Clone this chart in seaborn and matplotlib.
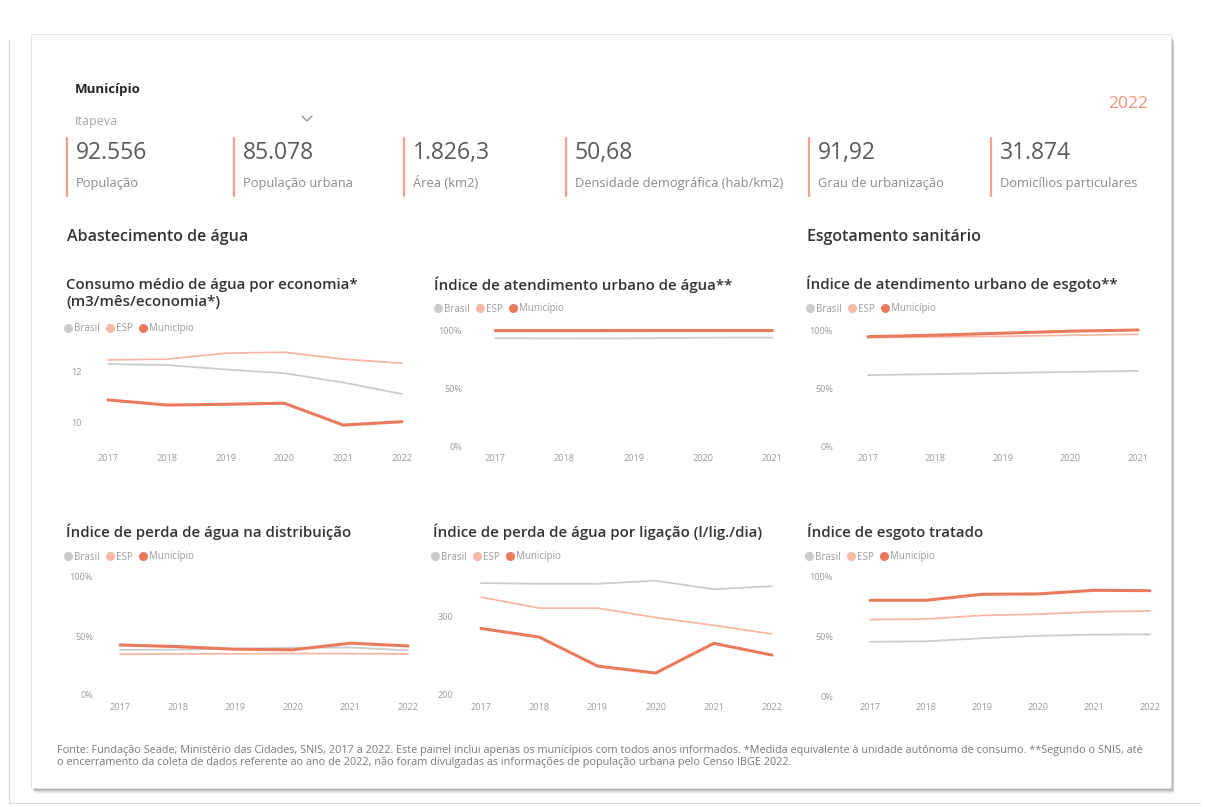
import matplotlib
matplotlib.use("Agg")
import matplotlib.pyplot as plt
import seaborn as sns
import pandas as pd
from matplotlib.patches import Rectangle
from matplotlib.lines import Line2D

# ---------------- data ----------------
years6 = [2017, 2018, 2019, 2020, 2021, 2022]
years5 = [2017, 2018, 2019, 2020, 2021]

kpi_values = ["92.556", "85.078", "1.826,3", "50,68", "91,92", "31.874"]
kpi_labels = ["População", "População urbana", "Área (km2)",
              "Densidade demográfica (hab/km2)", "Grau de urbanização",
              "Domicílios particulares"]

consumo_brasil = [12.30, 12.26, 12.09, 11.94, 11.58, 11.13]
consumo_esp = [12.46, 12.49, 12.72, 12.76, 12.49, 12.33]
consumo_mun = [10.90, 10.70, 10.73, 10.77, 9.92, 10.05]

agua_brasil = [93.0, 92.8, 92.9, 93.4, 93.5]
agua_esp = [98.9, 98.8, 99.0, 99.2, 99.3]
agua_mun = [100.0, 100.0, 100.0, 100.0, 100.0]

esgoto_brasil = [61.5, 62.3, 63.2, 64.2, 65.0]
esgoto_esp = [93.5, 94.0, 94.6, 95.5, 96.3]
esgoto_mun = [94.3, 95.6, 97.3, 99.0, 100.0]

perda_dist_brasil = [38.3, 38.5, 39.2, 40.1, 40.3, 37.8]
perda_dist_esp = [34.5, 34.8, 34.9, 35.2, 35.0, 34.8]
perda_dist_mun = [42.4, 41.0, 38.8, 38.3, 43.9, 41.6]

perda_lig_brasil = [343, 342, 342, 346, 335, 339]
perda_lig_esp = [325, 311, 311, 299, 289, 278]
perda_lig_mun = [285, 274, 237, 228, 266, 251]

tratado_brasil = [46.0, 46.4, 49.0, 51.0, 52.0, 52.2]
tratado_esp = [64.5, 65.0, 68.0, 69.0, 71.0, 71.7]
tratado_mun = [80.6, 80.6, 85.6, 85.9, 88.9, 88.6]

series_names = ["Brasil", "ESP", "Município"]

footer1 = ("Fonte: Fundação Seade; Ministério das Cidades, SNIS, 2017 a 2022. Este painel inclui apenas os municípios "
           "com todos anos informados. *Medida equivalente à unidade autônoma de consumo. **Segundo o SNIS, até")
footer2 = ("o encerramento da coleta de dados referente ao ano de 2022, não foram divulgadas as informações de "
           "população urbana pelo Censo IBGE 2022.")

# ---------------- style ----------------
sns.set_style("white")
plt.rcParams['font.family'] = ['Open Sans', 'DejaVu Sans']

W, H = 1206, 807
C_BR = "#cbcbcb"
C_ESP = "#f6b9a6"
C_MUN = "#e97a5c"
COLORS = {"Brasil": C_BR, "ESP": C_ESP, "Município": C_MUN}
LWS = {"Brasil": 1.3, "ESP": 1.3, "Município": 2.2}

fig = plt.figure(figsize=(W / 100, H / 100), dpi=100)
fig.patch.set_facecolor("white")


def fx(x):
    return x / W


def fy(y):
    return 1 - y / H


def ftext(x, y, s, **kw):
    kw.setdefault("va", "center")
    fig.text(fx(x), fy(y), s, **kw)


# outer faint frame
fig.add_artist(Line2D([fx(9), fx(9)], [fy(40), fy(803)], color="#d8d8d8", lw=0.8, zorder=-5))
fig.add_artist(Line2D([fx(9), fx(1200)], [fy(803), fy(803)], color="#d8d8d8", lw=0.8, zorder=-5))

# card shadow
for i, a in enumerate([0.05, 0.07, 0.10, 0.14, 0.20]):
    off = 5 - i
    fig.add_artist(Rectangle((fx(32 + off * 0.6), fy(789 + off)), 1140 / W, 752 / H,
                             transform=fig.transFigure, facecolor="#555555", alpha=a,
                             edgecolor="none", zorder=-4))
fig.add_artist(Rectangle((fx(31), fy(788)), 1140 / W, 754 / H, transform=fig.transFigure,
                         facecolor="white", edgecolor="#e2e2e2", lw=0.6, zorder=-3))

# header
ftext(75, 90, "Município", fontsize=9.5, fontweight="bold", color="#252525")
ftext(75, 121, "Itapeva", fontsize=9, color="#a8a8a8")
fig.add_artist(Line2D([fx(302), fx(307), fx(312)], [fy(116), fy(121), fy(116)],
                      color="#8a8a8a", lw=0.9))
ftext(1148, 104, "2022", fontsize=12.5, color="#f0937a", ha="right")

# KPIs
kpi_x = [67, 234, 404, 566, 809, 991]
for x, v, lab in zip(kpi_x, kpi_values, kpi_labels):
    fig.add_artist(Line2D([fx(x), fx(x)], [fy(138), fy(196)], color="#f2a18a", lw=1.6))
    ftext(x + 9, 153, v, fontsize=16.5, color="#5a5a5a")
    ftext(x + 9, 183, lab, fontsize=9.3, color="#8a8a8a")

# section titles
ftext(67, 237, "Abastecimento de água", fontsize=11.5, fontweight="semibold", color="#333333")
ftext(807, 237, "Esgotamento sanitário", fontsize=11.5, fontweight="semibold", color="#333333")


def chart(box, xref, yref, years, vals, yticks, yticklabels, ylab_right, xlab_y,
          title_lines, title_xy, legend_xy):
    x0, y0, x1, y1 = box
    ax = fig.add_axes([fx(x0), fy(y1), (x1 - x0) / W, (y1 - y0) / H])
    ax.patch.set_alpha(0)
    (ya, pa), (yb, pb) = xref
    sx = (pb - pa) / (yb - ya)
    ax.set_xlim(ya - (pa - x0) / sx, yb + (x1 - pb) / sx)
    (va, qa), (vb, qb) = yref
    sy = (qb - qa) / (va - vb)
    ax.set_ylim(vb - (y1 - qb) / sy, va + (qa - y0) / sy)
    df = pd.DataFrame({"Ano": years * 3,
                       "Valor": vals[0] + vals[1] + vals[2],
                       "Série": [n for n in series_names for _ in years]})
    for n in series_names:
        sns.lineplot(data=df[df["Série"] == n], x="Ano", y="Valor", ax=ax,
                     color=COLORS[n], lw=LWS[n], legend=False)
    ax.set_xticks(years)
    ax.set_xticklabels([str(y) for y in years])
    ax.set_yticks(yticks)
    ax.set_yticklabels(yticklabels)
    ax.set_xlabel("")
    ax.set_ylabel("")
    ax.tick_params(axis="both", length=0, labelsize=6.6, labelcolor="#9a9a9a")
    ax.tick_params(axis="x", pad=(xlab_y - y1 - 4) * 0.72)
    ax.tick_params(axis="y", pad=(x0 - ylab_right) * 0.72)
    sns.despine(ax=ax, left=True, bottom=True)
    tx, ty = title_xy
    for i, t in enumerate(title_lines):
        ftext(tx, ty + i * 17, t, fontsize=10.8, fontweight="semibold", color="#333333")
    handles = [Line2D([], [], ls="", marker="o", markersize=5.5, color=COLORS[n]) for n in series_names]
    lx, ly = legend_xy
    ax.legend(handles, series_names, loc="center left", bbox_to_anchor=(fx(lx), fy(ly)),
              bbox_transform=fig.transFigure, ncol=3, frameon=False, fontsize=7.0,
              handletextpad=0.15, columnspacing=0.6, borderpad=0, borderaxespad=0,
              handlelength=0.9, labelcolor="#9a9a9a")
    return ax


pct = ["0%", "50%", "100%"]

chart((95, 340, 415, 447), ((2017, 108), (2022, 402)), ((12, 371.7), (10, 423)), years6,
      [consumo_brasil, consumo_esp, consumo_mun], [10, 12], ["10", "12"], 82, 458,
      ["Consumo médio de água por economia*", "(m3/mês/economia*)"], (66, 285), (64, 329))

chart((480, 320, 790, 449), ((2017, 495), (2021, 772)), ((100, 330), (0, 447)), years5,
      [agua_brasil, agua_esp, agua_mun], [0, 50, 100], pct, 462, 458,
      ["Índice de atendimento urbano de água**"], (434, 285), (434, 309))

chart((850, 320, 1160, 449), ((2017, 868), (2021, 1138)), ((100, 330), (0, 447)), years5,
      [esgoto_brasil, esgoto_esp, esgoto_mun], [0, 50, 100], pct, 833, 458,
      ["Índice de atendimento urbano de esgoto**"], (806, 284), (806, 309))

chart((105, 570, 420, 697), ((2017, 120), (2022, 408)), ((100, 577), (0, 695)), years6,
      [perda_dist_brasil, perda_dist_esp, perda_dist_mun], [0, 50, 100], pct, 93, 707,
      ["Índice de perda de água na distribuição"], (66, 532), (64, 557))

chart((465, 570, 790, 697), ((2017, 481), (2022, 772)), ((300, 616.7), (200, 695)), years6,
      [perda_lig_brasil, perda_lig_esp, perda_lig_mun], [200, 300], ["200", "300"], 453, 707,
      ["Índice de perda de água por ligação (l/lig./dia)"], (433, 532), (431, 557))

chart((855, 570, 1165, 699), ((2017, 870), (2022, 1150)), ((100, 577), (0, 697)), years6,
      [tratado_brasil, tratado_esp, tratado_mun], [0, 50, 100], pct, 833, 707,
      ["Índice de esgoto tratado"], (807, 532), (805, 557))

ftext(57, 750, footer1, fontsize=7.8, color="#7a7a7a")
ftext(57, 763, footer2, fontsize=7.8, color="#7a7a7a")

fig.savefig("out.png", dpi=100, facecolor="white")
